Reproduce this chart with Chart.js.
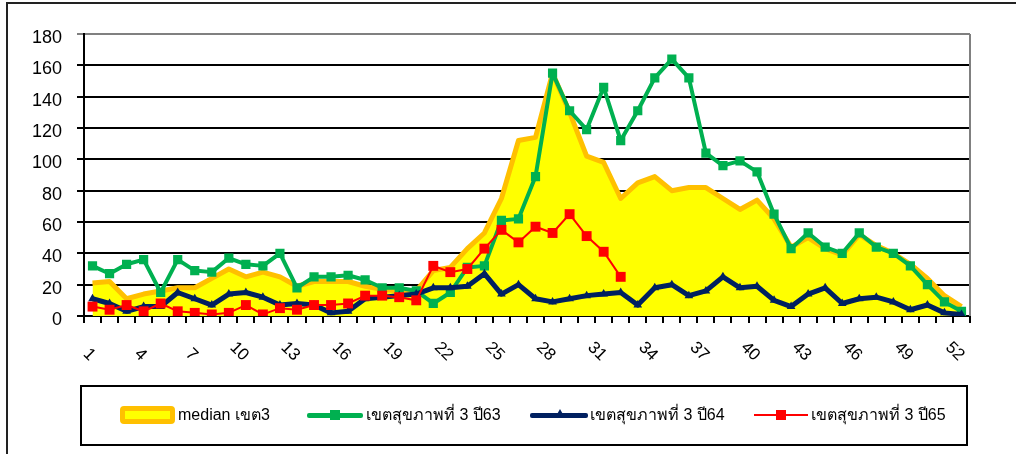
<!DOCTYPE html>
<html>
<head>
<meta charset="utf-8">
<script src="https://cdn.jsdelivr.net/npm/chart.js@4.4.1/dist/chart.umd.min.js"></script>
<style>
  body { margin: 0; background: #fff; }
  #wrap { position: relative; width: 1016px; height: 454px; overflow: hidden; background: #fff; }
  #frame { position: absolute; left: 6px; top: 2px; width: 1100px; height: 500px; border-left: 2px solid #222; border-top: 2px solid #222; }
  #chart { position: absolute; left: 0; top: 0; }
  #legendBox { position: absolute; left: 80px; top: 385px; width: 888px; height: 61px; box-sizing: border-box; border: 2px solid #000; }
  .lg { position: absolute; }
  .txt { position: absolute; top: 405px; height: 20px; line-height: 20px; font-family: "Liberation Sans", "Noto Sans", sans-serif; font-size: 16px; color: #000; white-space: nowrap; }
</style>
</head>
<body>
<div id="wrap">
  <div id="frame"></div>
  <canvas id="chart" width="1016" height="454"></canvas>
  <div id="legendBox"></div>
  <!-- legend: median -->
  <div class="lg" style="left:120px;top:406px;width:55px;height:18px;box-sizing:border-box;border:5px solid #FFC000;background:#FFFF00;border-radius:4px;"></div>
  <div class="txt" style="left:178px;">median เขต3</div>
  <!-- legend: 63 -->
  <div class="lg" style="left:307px;top:413px;width:56px;height:5px;background:#00B050;border-radius:2px;"></div>
  <div class="lg" style="left:330px;top:410px;width:10px;height:10px;background:#00B050;"></div>
  <div class="txt" style="left:366px;">เขตสุขภาพที่ 3 ปี63</div>
  <!-- legend: 64 -->
  <div class="lg" style="left:530px;top:413px;width:58px;height:5px;background:#002060;border-radius:2px;"></div>
  <div class="lg" style="left:555px;top:409px;width:0;height:0;border-left:5px solid transparent;border-right:5px solid transparent;border-bottom:9px solid #002060;"></div>
  <div class="txt" style="left:590px;">เขตสุขภาพที่ 3 ปี64</div>
  <!-- legend: 65 -->
  <div class="lg" style="left:754px;top:414px;width:54px;height:2px;background:#FF0000;"></div>
  <div class="lg" style="left:776px;top:410px;width:10px;height:10px;background:#FF0000;"></div>
  <div class="txt" style="left:811px;">เขตสุขภาพที่ 3 ปี65</div>
</div>
<script>
// สัปดาห์ที่ 1-52
const weeks = ['1','2','3','4','5','6','7','8','9','10','11','12','13','14','15','16','17','18','19','20','21','22','23','24','25','26',
               '27','28','29','30','31','32','33','34','35','36','37','38','39','40','41','42','43','44','45','46','47','48','49','50','51','52'];

// median เขต3
const median3 = [21,22,11,14,16,18,18,24,30,25,28,25,19,22,22,22,19,17,16,16,29,31,43,53,75,112,
                 114,155,130,102,98,75,85,89,80,82,82,75,68,74,62,44,50,43,39,52,45,40,33,24,13,6];
// เขตสุขภาพที่ 3 ปี63
const y63 = [32,27,33,36,15,36,29,28,37,33,32,40,18,25,25,26,23,18,18,16,8,15,31,32,61,62,
             89,155,131,119,146,112,131,152,164,152,104,96,99,92,65,43,53,44,40,53,44,40,32,20,9,3];
// เขตสุขภาพที่ 3 ปี64
const y64 = [11,8,3,6,6,15,11,7,14,15,12,7,8,7,2,3,11,12,13,14,18,18,19,27,14,20,
             11,9,11,13,14,15,7,18,20,13,16,25,18,19,10,6,14,18,8,11,12,9,4,7,2,1];
// เขตสุขภาพที่ 3 ปี65 (ถึงสัปดาห์ที่ 32)
const y65 = [6,4,7,3,8,3,2,1,2,7,1,5,4,7,7,8,13,13,12,10,32,28,30,43,55,47,57,53,65,51,41,25];

const yTicks = [0,20,40,60,80,100,120,140,160,180];

// เส้นขอบขวาของพื้นที่กราฟ (สีเทา)
const rightBorder = {
    id: 'rightBorder',
    beforeDatasetsDraw(chart) {
        const a = chart.chartArea;
        const c = chart.ctx;
        c.save();
        c.strokeStyle = '#808080';
        c.lineWidth = 2;
        c.beginPath();
        c.moveTo(a.right, a.top);
        c.lineTo(a.right, a.bottom);
        c.stroke();
        c.restore();
    }
};

const ctx = document.getElementById('chart').getContext('2d');
const chart = new Chart(ctx, {
    type: 'line',
    data: {
        labels: weeks,
        datasets: [{
            label: 'median เขต3',
            data: median3,
            order: 4,
            fill: 'origin',
            backgroundColor: '#FFFF00',
            borderColor: '#FFC000',
            borderWidth: 5,
            borderJoinStyle: 'round',
            pointRadius: 0
        },
        {
            label: 'เขตสุขภาพที่ 3 ปี63',
            data: y63,
            order: 3,
            borderColor: '#00B050',
            borderWidth: 4,
            borderJoinStyle: 'round',
            pointStyle: 'rect',
            pointRadius: 6.5,
            pointBackgroundColor: '#00B050',
            pointBorderWidth: 0
        },
        {
            label: 'เขตสุขภาพที่ 3 ปี64',
            data: y64,
            order: 2,
            borderColor: '#002060',
            borderWidth: 5,
            borderJoinStyle: 'round',
            pointStyle: 'triangle',
            pointRadius: 5,
            pointBackgroundColor: '#002060',
            pointBorderWidth: 0
        },
        {
            label: 'เขตสุขภาพที่ 3 ปี65',
            data: y65,
            order: 1,
            borderColor: '#FF0000',
            borderWidth: 2,
            pointStyle: 'rect',
            pointRadius: 7,
            pointBackgroundColor: '#FF0000',
            pointBorderWidth: 0
        }]
    },
    options: {
        responsive: false,
        animation: false,
        layout: { padding: { left: 0, right: 46, top: 34, bottom: 0 } },
        plugins: {
            legend: { display: false },
            tooltip: { enabled: false }
        },
        scales: {
            x: {
                offset: true,
                grid: { offset: true, drawOnChartArea: false, drawTicks: true, tickLength: 7, color: '#000', lineWidth: 2 },
                border: { color: '#000', width: 2 },
                ticks: {
                    autoSkip: false,
                    minRotation: -45,
                    maxRotation: -45,
                    padding: 28,
                    color: '#000',
                    font: { family: 'Liberation Sans', size: 17 },
                    callback: (v, i) => (i % 3 === 0 ? weeks[i] : '')
                },
                afterFit: s => { s.height = 454 - 316; }
            },
            y: {
                min: 0,
                max: 180,
                afterBuildTicks: s => { s.ticks = yTicks.map(v => ({ value: v })); },
                grid: {
                    color: c => (c.tick && c.tick.value === 180 ? '#808080' : '#000'),
                    lineWidth: 2,
                    tickLength: 7
                },
                border: { color: '#000', width: 2 },
                ticks: {
                    padding: 15,
                    labelOffset: 4,
                    color: '#000',
                    font: { family: 'Liberation Sans', size: 18 }
                },
                afterFit: s => { s.width = 84; }
            }
        }
    },
    plugins: [rightBorder]
});
</script>
</body>
</html>
